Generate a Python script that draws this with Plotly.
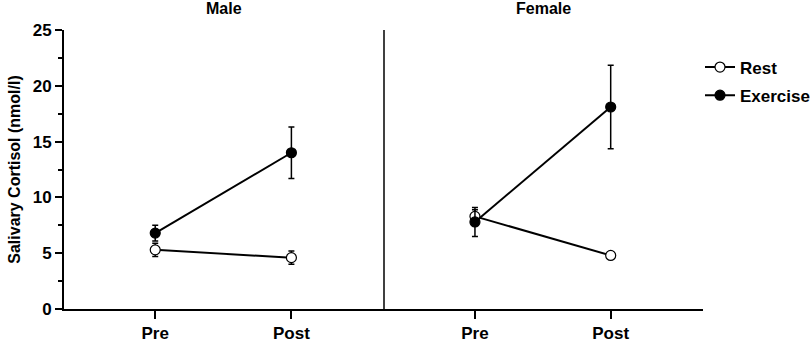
import plotly.graph_objects as go

times = ["Pre", "Post"]
panels = ["Male", "Female"]

rest_male = [5.3, 4.6]
rest_male_err = [0.6, 0.6]
exercise_male = [6.8, 14.0]
exercise_male_err = [0.7, 2.3]

rest_female = [8.3, 4.8]
rest_female_err = [0.6, 0.3]
exercise_female = [7.8, 18.1]
exercise_female_err = [1.3, 3.75]

y_ticks = [0, 5, 10, 15, 20, 25]

FONT = "Liberation Sans, Arial, sans-serif"
xpos = list(range(len(times)))

fig = go.Figure()

def add(y, err, name, filled, xaxis, show):
    fig.add_trace(go.Scatter(
        x=xpos, y=y, name=name, mode="lines+markers",
        xaxis=xaxis, yaxis="y",
        line=dict(color="black", width=2),
        marker=dict(size=10, color="black" if filled else "white",
                    line=dict(color="black", width=1.2)),
        error_y=dict(type="data", array=err, color="black", thickness=1.5, width=3),
        showlegend=show, legendgroup=name,
    ))

add(rest_male, rest_male_err, "Rest", False, "x", True)
add(exercise_male, exercise_male_err, "Exercise", True, "x", True)
add(rest_female, rest_female_err, "Rest", False, "x2", False)
add(exercise_female, exercise_female_err, "Exercise", True, "x2", False)

split = 320 / 639
xrange_ = [-0.67, 1.68]
xcommon = dict(
    range=xrange_, tickvals=xpos, ticktext=times,
    showline=True, linecolor="black", linewidth=2,
    ticks="outside", ticklen=8, tickwidth=2, tickcolor="black",
    showgrid=False, zeroline=False, automargin=False,
    tickfont=dict(family=FONT, size=17, color="black", weight="bold"),
)
fig.update_layout(
    width=810, height=346,
    margin=dict(l=64, r=107, t=30, b=37, autoexpand=False),
    paper_bgcolor="white", plot_bgcolor="white",
    font=dict(family=FONT, color="black"),
    xaxis=dict(domain=[0, split], anchor="y", **xcommon),
    xaxis2=dict(domain=[split, 1], anchor="y", **xcommon),
    yaxis=dict(
        range=[0, 25], tickvals=y_ticks, anchor="x", automargin=False,
        showline=True, linecolor="black", linewidth=2,
        ticks="outside", ticklen=7, tickwidth=2, tickcolor="black",
        minor=dict(dtick=2.5, ticks="outside", ticklen=4, tickwidth=2, tickcolor="black", showgrid=False),
        showgrid=False, zeroline=False,
        tickfont=dict(family=FONT, size=17, color="black", weight="bold"),
        title=dict(text="Salivary Cortisol (nmol/l)", standoff=8,
                   font=dict(family=FONT, size=16, color="black", weight="bold")),
    ),
    legend=dict(xref="container", x=700 / 810, xanchor="left", y=0.93, yanchor="top",
                font=dict(family=FONT, size=17, color="black", weight="bold"),
                bgcolor="rgba(0,0,0,0)", tracegroupgap=3, itemwidth=30),
    showlegend=True,
)

# Panel titles
for i, p in enumerate(panels):
    fig.add_annotation(
        text=p, xref="x" if i == 0 else "x2", yref="paper",
        x=0.5 * (xrange_[0] + xrange_[1]), y=1.0, yanchor="middle",
        yshift=22, showarrow=False,
        font=dict(family=FONT, size=16, color="black", weight="bold"),
    )

# Divider: vertical line at panel boundary (left axis line of female panel)
fig.add_shape(type="line", xref="paper", yref="y", x0=split, x1=split, y0=0, y1=25,
              line=dict(color="black", width=1.5))

fig.write_html("out.html", config={"displayModeBar": False})

# remove default page margin so the figure sits at the window's top-left corner
with open("out.html", "r", encoding="utf-8") as f:
    html = f.read()
html = html.replace("<head>", "<head><style>html,body{margin:0;padding:0;overflow:hidden}</style>", 1)
with open("out.html", "w", encoding="utf-8") as f:
    f.write(html)
